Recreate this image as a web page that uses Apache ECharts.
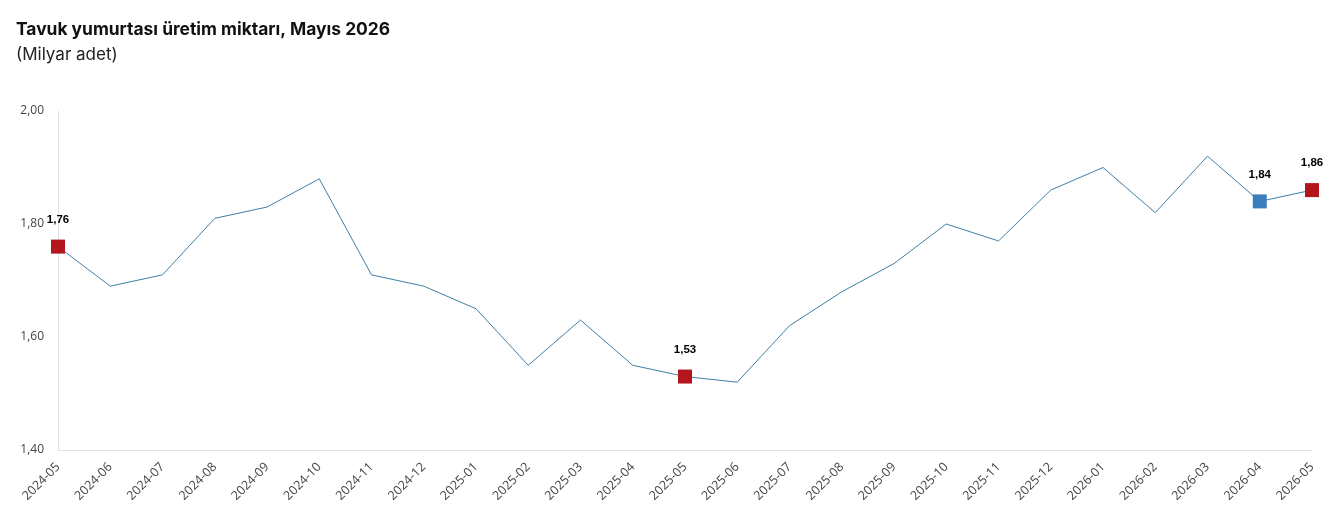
<!DOCTYPE html>
<html>
<head>
<meta charset="utf-8">
<script src="https://cdn.jsdelivr.net/npm/echarts@6/dist/echarts.min.js"></script>
<style>
    body { margin: 0; background: #fff; }
    #chart { width: 1338px; height: 524px; }
</style>
</head>
<body>
<div id="chart"></div>
<script>
    var months = ["2024-05", "2024-06", "2024-07", "2024-08", "2024-09", "2024-10", "2024-11", "2024-12",
        "2025-01", "2025-02", "2025-03", "2025-04", "2025-05", "2025-06", "2025-07", "2025-08", "2025-09",
        "2025-10", "2025-11", "2025-12", "2026-01", "2026-02", "2026-03", "2026-04", "2026-05"];
    var production = [1.76, 1.69, 1.71, 1.81, 1.83, 1.88, 1.71, 1.69,
        1.65, 1.55, 1.63, 1.55, 1.53, 1.52, 1.62, 1.68, 1.73,
        1.80, 1.77, 1.86, 1.90, 1.82, 1.92, 1.84, 1.86];
    // highlighted points: index -> marker colour
    var redPoints = [0, 12, 24];
    var bluePoints = [23];

    var fmt = function (v) { return v.toFixed(2).replace('.', ','); };

    var seriesData = production.map(function (v, i) {
        var color = null;
        if (redPoints.indexOf(i) >= 0) color = '#b3161d';
        if (bluePoints.indexOf(i) >= 0) color = '#3b7dbd';
        if (!color) return {value: v, symbol: 'none'};
        return {
            value: v,
            symbol: 'rect',
            symbolSize: 14,
            itemStyle: {color: color},
            label: {show: true}
        };
    });

    var chart = echarts.init(document.getElementById('chart'));
    chart.setOption({
        animation: false,
        textStyle: {fontFamily: 'Inter, "Noto Sans", sans-serif'},
        title: {
            text: 'Tavuk yumurtası üretim miktarı, Mayıs 2026',
            subtext: '(Milyar adet)',
            left: 11,
            top: 16,
            itemGap: 8,
            textStyle: {fontSize: 17.4, fontWeight: 'bold', color: '#111'},
            subtextStyle: {fontSize: 17, color: '#222'}
        },
        grid: {left: 58, right: 26, top: 111, bottom: 74},
        xAxis: {
            type: 'category',
            boundaryGap: false,
            data: months,
            axisTick: {show: false},
            axisLine: {lineStyle: {color: '#e2e2e2'}},
            axisLabel: {rotate: 45, color: '#444', fontSize: 12.5, margin: 15, interval: 0,
                fontFamily: '"Open Sans", sans-serif'}
        },
        yAxis: {
            type: 'value',
            min: 1.4,
            max: 2.0,
            interval: 0.2,
            splitLine: {show: false},
            axisTick: {show: false},
            axisLine: {show: true, lineStyle: {color: '#e2e2e2'}},
            axisLabel: {color: '#444', fontSize: 12, margin: 14,
                fontFamily: '"Open Sans", sans-serif',
                formatter: function (v) { return fmt(v); }}
        },
        series: [{
            type: 'line',
            data: seriesData,
            lineStyle: {color: '#3f7fa6', width: 1},
            itemStyle: {color: '#3f7fa6'},
            label: {
                show: false,
                position: 'top',
                distance: 14,
                color: '#000',
                fontSize: 11.5,
                fontWeight: 'bold',
                fontFamily: 'Arial, "Liberation Sans", sans-serif',
                formatter: function (p) { return fmt(p.value); }
            }
        }]
    });
</script>
</body>
</html>
